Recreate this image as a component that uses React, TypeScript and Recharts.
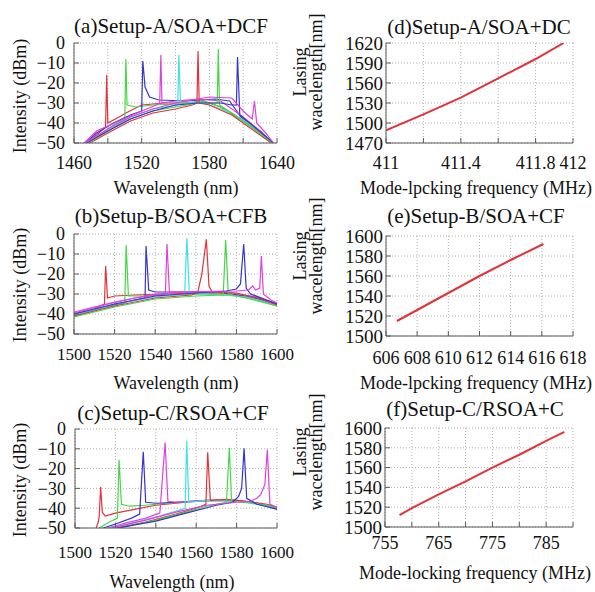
import { LineChart, Line, XAxis, YAxis, CartesianGrid } from 'recharts'

type Pt = [number, number]

const FONT = 'Liberation Serif, DejaVu Serif, serif'
const RED = '#e2323a'
const GREEN = '#44d844'
const BLUE = '#3535cc'
const MAGENTA = '#e040e0'
const CYAN = '#40e0e6'

// (a) Setup-A/SOA+DCF spectra: [wavelength nm, intensity dBm]
const aRed1: Pt[] = [[1471, -50], [1480, -46], [1488, -42], [1489, -16], [1490, -40], [1500, -37], [1506, -35], [1520, -31], [1540, -30], [1560, -30], [1575, -29], [1590, -32], [1610, -39], [1625, -45], [1636, -50]]
const aGreen1: Pt[] = [[1472, -50], [1485, -45], [1495, -41], [1505, -38], [1506, -8], [1507, -31], [1515, -32], [1530, -31], [1550, -30.5], [1575, -29], [1590, -32], [1610, -39], [1625, -45], [1636, -50]]
const aBlue1: Pt[] = [[1470, -50], [1480, -45], [1495, -40], [1510, -36], [1520, -34], [1521, -9], [1523, -22], [1527, -27], [1535, -28.5], [1560, -29], [1585, -28], [1598, -29], [1608, -37], [1625, -44], [1636, -50]]
const aMagenta1: Pt[] = [[1469, -50], [1480, -44], [1500, -39], [1520, -34], [1533, -31], [1536, -30], [1537, -6], [1538, -30], [1550, -29], [1570, -28], [1590, -29], [1610, -37], [1625, -44], [1636, -50]]
const aCyan: Pt[] = [[1470, -50], [1490, -44], [1510, -37], [1530, -33], [1552, -31], [1553, -6], [1554.5, -31], [1570, -29], [1580, -31], [1600, -35], [1620, -42], [1636, -50]]
const aRed2: Pt[] = [[1474, -50], [1490, -45], [1510, -39], [1530, -35], [1550, -33], [1565, -31], [1569, -30], [1570, -4], [1571, -30], [1580, -31], [1600, -36], [1620, -44], [1635, -50]]
const aGreen2: Pt[] = [[1473, -50], [1490, -44], [1510, -38], [1530, -34], [1550, -32], [1570, -30], [1580, -30], [1587, -30], [1588, -3], [1589, -31], [1600, -35], [1620, -43], [1636, -50]]
const aBlue2: Pt[] = [[1471, -50], [1490, -44], [1510, -38], [1530, -34], [1550, -31], [1570, -30], [1590, -30], [1600, -31], [1604, -31], [1605, -7], [1607, -36], [1620, -42], [1637, -50]]
const aMagenta2: Pt[] = [[1470, -50], [1490, -43], [1510, -37], [1530, -33], [1550, -30], [1570, -28], [1580, -27], [1600, -27.5], [1610, -34], [1618, -38], [1620, -29], [1622, -40], [1630, -45], [1637, -50]]

// (b) Setup-B/SOA+CFB spectra
const bRed1: Pt[] = [[1500, -40], [1510, -37.5], [1515, -35], [1515.6, -16], [1516.5, -32], [1520, -31], [1530, -30.5], [1545, -30], [1560, -29.5], [1575, -30], [1590, -32], [1600, -35.5]]
const bGreen1: Pt[] = [[1500, -41], [1510, -38.5], [1520, -36], [1525, -34.5], [1525.7, -5.5], [1526.8, -31], [1535, -31], [1550, -30.5], [1565, -30], [1580, -31], [1590, -33], [1600, -36]]
const bBlue1: Pt[] = [[1500, -40.5], [1515, -36.5], [1530, -33], [1535, -32], [1535.5, -6], [1536.8, -28], [1540, -29], [1555, -29], [1570, -29], [1585, -31], [1600, -35]]
const bMagenta1: Pt[] = [[1500, -39.5], [1515, -35.5], [1530, -32], [1545, -30], [1545.8, -5], [1547, -29], [1560, -28.8], [1575, -29], [1590, -31.5], [1600, -35]]
const bCyan: Pt[] = [[1500, -40.5], [1520, -35], [1540, -31.5], [1554.5, -30], [1555.6, -2], [1556.8, -30], [1570, -30], [1585, -31.5], [1600, -35.5]]
const bRed2: Pt[] = [[1500, -41], [1520, -36], [1540, -32], [1558, -30.5], [1561, -29], [1563, -20], [1565.2, -2.7], [1566.5, -26], [1568, -29], [1580, -29.5], [1592, -32.5], [1600, -35.5]]
const bGreen2: Pt[] = [[1500, -41.5], [1520, -36.5], [1540, -32.5], [1560, -31], [1573.5, -30.5], [1574.7, -3], [1576, -30], [1585, -32], [1600, -36]]
const bBlue2: Pt[] = [[1500, -40], [1520, -35], [1540, -31], [1560, -29.5], [1575, -28.5], [1580, -27.5], [1582, -25], [1583.6, -5], [1584.8, -27], [1587, -30], [1595, -33], [1600, -35]]
const bMagenta2: Pt[] = [[1500, -39], [1520, -34], [1540, -30], [1560, -28.8], [1580, -28.5], [1586, -28], [1588, -26], [1589.5, -28], [1591.5, -27], [1592.3, -11], [1593.3, -30], [1597, -33], [1600, -34.5]]

// (c) Setup-C/RSOA+CF spectra
const cRed1: Pt[] = [[1510.5, -50], [1511.5, -47], [1512, -44], [1512.7, -29.3], [1513.5, -42], [1515, -44], [1520, -42.5], [1530, -40.5], [1540, -38.5], [1550, -37.5], [1560, -36.5], [1570, -36], [1580, -36.5], [1590, -37.5], [1600, -40]]
const cGreen1: Pt[] = [[1512, -50], [1517, -47], [1521, -45], [1521.8, -15.5], [1523, -38], [1527, -39], [1535, -38.5], [1545, -37.5], [1560, -36.5], [1575, -36], [1590, -37.5], [1600, -40]]
const cBlue1: Pt[] = [[1514, -50], [1520, -48], [1528, -45], [1532, -43], [1533.8, -11.5], [1535, -37], [1540, -37.5], [1550, -37], [1565, -36], [1580, -36], [1590, -37.5], [1600, -40.5]]
const cMagenta1: Pt[] = [[1516, -50], [1525, -47.5], [1535, -45], [1542, -42.5], [1544.6, -6.8], [1546, -36.5], [1550, -37], [1565, -36], [1580, -36], [1590, -37.5], [1600, -40]]
const cCyan: Pt[] = [[1517, -50], [1530, -47], [1540, -44.5], [1550, -41.5], [1554.5, -40], [1555.3, -6], [1556.3, -37], [1565, -36], [1580, -36.5], [1590, -38], [1600, -40]]
const cRed2: Pt[] = [[1520, -50], [1535, -47], [1550, -43], [1560, -40], [1564.8, -38], [1565.7, -11.8], [1567, -36], [1575, -35.5], [1585, -36.5], [1595, -38], [1600, -39.5]]
const cGreen2: Pt[] = [[1522, -50], [1540, -46], [1555, -42], [1565, -39], [1575, -37], [1576.4, -9.5], [1577.5, -36.5], [1585, -37], [1595, -38.5], [1600, -40]]
const cBlue2: Pt[] = [[1521, -50], [1540, -46.5], [1555, -42.5], [1570, -38.5], [1578, -37], [1581, -34], [1582.5, -30], [1583.7, -9.8], [1585, -35], [1590, -38], [1600, -40.5]]
const cMagenta2: Pt[] = [[1518, -50], [1535, -46], [1550, -42], [1565, -38.5], [1580, -37], [1587, -36.5], [1590, -35], [1592, -33], [1594, -28], [1595.2, -10.5], [1596.5, -38], [1600, -39.5]]

// (d)-(f) tuning: mode-locking frequency (MHz) vs lasing wavelength (nm)
const dFreq = [411.0, 411.2, 411.4, 411.6, 411.8, 411.95]
const dWave = [1489, 1513, 1538, 1567, 1596, 1620]
const eFreq = [606.7, 608, 610, 612, 614, 616.1]
const eWave = [1515, 1526, 1543, 1560, 1576, 1592]
const fFreq = [757.7, 760, 765, 770, 775, 780, 785, 788.4]
const fWave = [1512, 1519, 1533, 1546, 1560, 1573, 1587, 1596]

// ticks
const aTicksX = [1460, 1490, 1520, 1550, 1580, 1610, 1640]
const aLabelsX = [1460, 1520, 1580, 1640]
const bcTicksX = [1500, 1520, 1540, 1560, 1580, 1600]
const dbTicks = [-50, -40, -30, -20, -10, 0]
const dTicksX = [411, 411.2, 411.4, 411.6, 411.8, 412]
const dLabelsX = [411, 411.4, 411.8, 412]
const dTicksY = [1470, 1500, 1530, 1560, 1590, 1620]
const eTicksX = [606, 608, 610, 612, 614, 616, 618]
const efTicksY = [1500, 1520, 1540, 1560, 1580, 1600]
const fTicksX = [755, 760, 765, 770, 775, 780, 785, 790]
const fLabelsX = [755, 765, 775, 785]

const toXY = (pts: Pt[]) => pts.map(([x, y]) => ({ x, y }))
const zip = (xs: number[], ys: number[]) => xs.map((x, i) => ({ x, y: ys[i] }))
const fmtDb = (v: number) => (v < 0 ? '\u2212' + Math.abs(v) : String(v))

type Box = { l: number; t: number; r: number; b: number }
type Trace = { data: { x: number; y: number }[]; color: string }

const YW = 60
const XH = 40
const MT = 16
const MR = 24
const AXIS = '#5a5a5a'

function Panel(props: {
  box: Box
  xDomain: [number, number]
  xTicks: number[]
  xLabels?: number[]
  yDomain: [number, number]
  yTicks: number[]
  yFmt?: (v: number) => string
  traces: Trace[]
  xFont: number
  yFont: number
  xGap: number
  yGap: number
  lineWidth: number
}) {
  const { box, xDomain, xTicks, xLabels, yDomain, yTicks, yFmt, traces } = props
  const W = YW + (box.r - box.l) + MR
  const H = MT + (box.b - box.t) + XH
  return (
    <div style={{ position: 'absolute', left: box.l - YW, top: box.t - MT, fontFamily: FONT }}>
      <LineChart width={W} height={H} margin={{ top: MT, right: MR, bottom: 0, left: 0 }}>
        <CartesianGrid xAxisId="b" yAxisId="l" stroke="#b0b0b0" strokeDasharray="1 2" />
        <XAxis
          xAxisId="b"
          type="number"
          dataKey="x"
          domain={xDomain}
          ticks={xTicks}
          interval={0}
          allowDataOverflow
          height={XH}
          tickSize={-5}
          tickMargin={props.xGap}
          stroke={AXIS}
          tick={{ fill: '#111', fontSize: props.xFont, fontFamily: FONT }}
          tickFormatter={(v: number) => (xLabels && !xLabels.includes(v) ? '' : String(v))}
        />
        <XAxis
          xAxisId="t"
          orientation="top"
          type="number"
          dataKey="x"
          domain={xDomain}
          ticks={xTicks}
          interval={0}
          allowDataOverflow
          height={0}
          tickSize={-5}
          tick={false}
          stroke={AXIS}
        />
        <YAxis
          yAxisId="l"
          type="number"
          domain={yDomain}
          ticks={yTicks}
          interval={0}
          allowDataOverflow
          width={YW}
          tickSize={-5}
          tickMargin={props.yGap}
          stroke={AXIS}
          tick={{ fill: '#111', fontSize: props.yFont, fontFamily: FONT }}
          tickFormatter={yFmt}
        />
        <YAxis
          yAxisId="r"
          orientation="right"
          type="number"
          domain={yDomain}
          ticks={yTicks}
          interval={0}
          allowDataOverflow
          width={0}
          tickSize={-5}
          tick={false}
          stroke={AXIS}
        />
        {traces.map((t, i) => (
          <Line
            key={i}
            xAxisId="b"
            yAxisId="l"
            data={t.data}
            dataKey="y"
            type="linear"
            stroke={t.color}
            strokeWidth={props.lineWidth}
            dot={false}
            isAnimationActive={false}
          />
        ))}
      </LineChart>
    </div>
  )
}

const spectra = (list: [Pt[], string][]): Trace[] => list.map(([p, c]) => ({ data: toXY(p), color: c }))

const aTraces = spectra([[aRed1, RED], [aGreen1, GREEN], [aBlue1, BLUE], [aMagenta1, MAGENTA], [aCyan, CYAN], [aRed2, RED], [aGreen2, GREEN], [aBlue2, BLUE], [aMagenta2, MAGENTA]])
const bTraces = spectra([[bRed1, RED], [bGreen1, GREEN], [bBlue1, BLUE], [bMagenta1, MAGENTA], [bCyan, CYAN], [bRed2, RED], [bGreen2, GREEN], [bBlue2, BLUE], [bMagenta2, MAGENTA]])
const cTraces = spectra([[cRed1, RED], [cGreen1, GREEN], [cBlue1, BLUE], [cMagenta1, MAGENTA], [cCyan, CYAN], [cRed2, RED], [cGreen2, GREEN], [cBlue2, BLUE], [cMagenta2, MAGENTA]])

function Txt({ x, y, size, children, rotate }: { x: number; y: number; size: number; children: string; rotate?: boolean }) {
  return (
    <text
      x={x}
      y={y}
      fill="#111"
      textAnchor="middle"
      dominantBaseline="central"
      style={{ fontFamily: FONT, fontSize: size }}
      transform={rotate ? `rotate(-90 ${x} ${y})` : undefined}
    >
      {children}
    </text>
  )
}

export default function App() {
  return (
    <div style={{ position: 'absolute', left: 0, top: 0, width: 595, height: 592, background: '#fff', overflow: 'hidden', fontFamily: FONT }}>
      <Panel box={{ l: 74, t: 43, r: 277, b: 143 }} xDomain={[1460, 1640]} xTicks={aTicksX} xLabels={aLabelsX} yDomain={[-50, 0]} yTicks={dbTicks} yFmt={fmtDb} traces={aTraces} xFont={18} yFont={18} xGap={18} yGap={14} lineWidth={1.2} />
      <Panel box={{ l: 74, t: 234, r: 277, b: 334 }} xDomain={[1500, 1600]} xTicks={bcTicksX} yDomain={[-50, 0]} yTicks={dbTicks} yFmt={fmtDb} traces={bTraces} xFont={17} yFont={18} xGap={19} yGap={14} lineWidth={1.2} />
      <Panel box={{ l: 75, t: 429, r: 277, b: 528 }} xDomain={[1500, 1600]} xTicks={bcTicksX} yDomain={[-50, 0]} yTicks={dbTicks} yFmt={fmtDb} traces={cTraces} xFont={17} yFont={18} xGap={23} yGap={14} lineWidth={1.2} />
      <Panel box={{ l: 386, t: 43, r: 573, b: 143 }} xDomain={[411, 412]} xTicks={dTicksX} xLabels={dLabelsX} yDomain={[1470, 1620]} yTicks={dTicksY} traces={[{ data: zip(dFreq, dWave), color: RED }]} xFont={18} yFont={19} xGap={18} yGap={8} lineWidth={2} />
      <Panel box={{ l: 386, t: 236, r: 573, b: 336 }} xDomain={[606, 618]} xTicks={eTicksX} yDomain={[1500, 1600]} yTicks={efTicksY} traces={[{ data: zip(eFreq, eWave), color: RED }]} xFont={18} yFont={19} xGap={20} yGap={8} lineWidth={2} />
      <Panel box={{ l: 385, t: 428, r: 573, b: 527 }} xDomain={[755, 790]} xTicks={fTicksX} xLabels={fLabelsX} yDomain={[1500, 1600]} yTicks={efTicksY} traces={[{ data: zip(fFreq, fWave), color: RED }]} xFont={18} yFont={19} xGap={14} yGap={8} lineWidth={2} />
      <svg width={595} height={592} style={{ position: 'absolute', left: 0, top: 0, pointerEvents: 'none' }}>
        <Txt x={171} y={26} size={21}>(a)Setup-A/SOA+DCF</Txt>
        <Txt x={171} y={216} size={21}>(b)Setup-B/SOA+CFB</Txt>
        <Txt x={173} y={413} size={21}>(c)Setup-C/RSOA+CF</Txt>
        <Txt x={479} y={27} size={21}>(d)Setup-A/SOA+DC</Txt>
        <Txt x={476} y={216} size={21}>(e)Setup-B/SOA+CF</Txt>
        <Txt x={475} y={409} size={21}>(f)Setup-C/RSOA+C</Txt>
        <Txt x={176} y={188} size={18}>Wavelength (nm)</Txt>
        <Txt x={176} y={383} size={18}>Wavelength (nm)</Txt>
        <Txt x={172} y={582} size={18}>Wavelength (nm)</Txt>
        <Txt x={476} y={188} size={18}>Mode-lpcking frequency (MHz)</Txt>
        <Txt x={476} y={383} size={18}>Mode-lpcking frequency (MHz)</Txt>
        <Txt x={475} y={573} size={18}>Mode-locking frequency (MHz)</Txt>
        <Txt x={20} y={96} size={18} rotate>Intensity (dBm)</Txt>
        <Txt x={20} y={285} size={18} rotate>Intensity (dBm)</Txt>
        <Txt x={20} y={480} size={18} rotate>Intensity (dBm)</Txt>
        <Txt x={300} y={72} size={18} rotate>Lasing</Txt>
        <Txt x={316} y={72} size={18} rotate>wacelength[nm]</Txt>
        <Txt x={300} y={256} size={18} rotate>Lasing</Txt>
        <Txt x={316} y={256} size={18} rotate>wacelength[nm]</Txt>
        <Txt x={300} y={452} size={18} rotate>Lasing</Txt>
        <Txt x={316} y={452} size={18} rotate>wacelength[nm]</Txt>
      </svg>
    </div>
  )
}
